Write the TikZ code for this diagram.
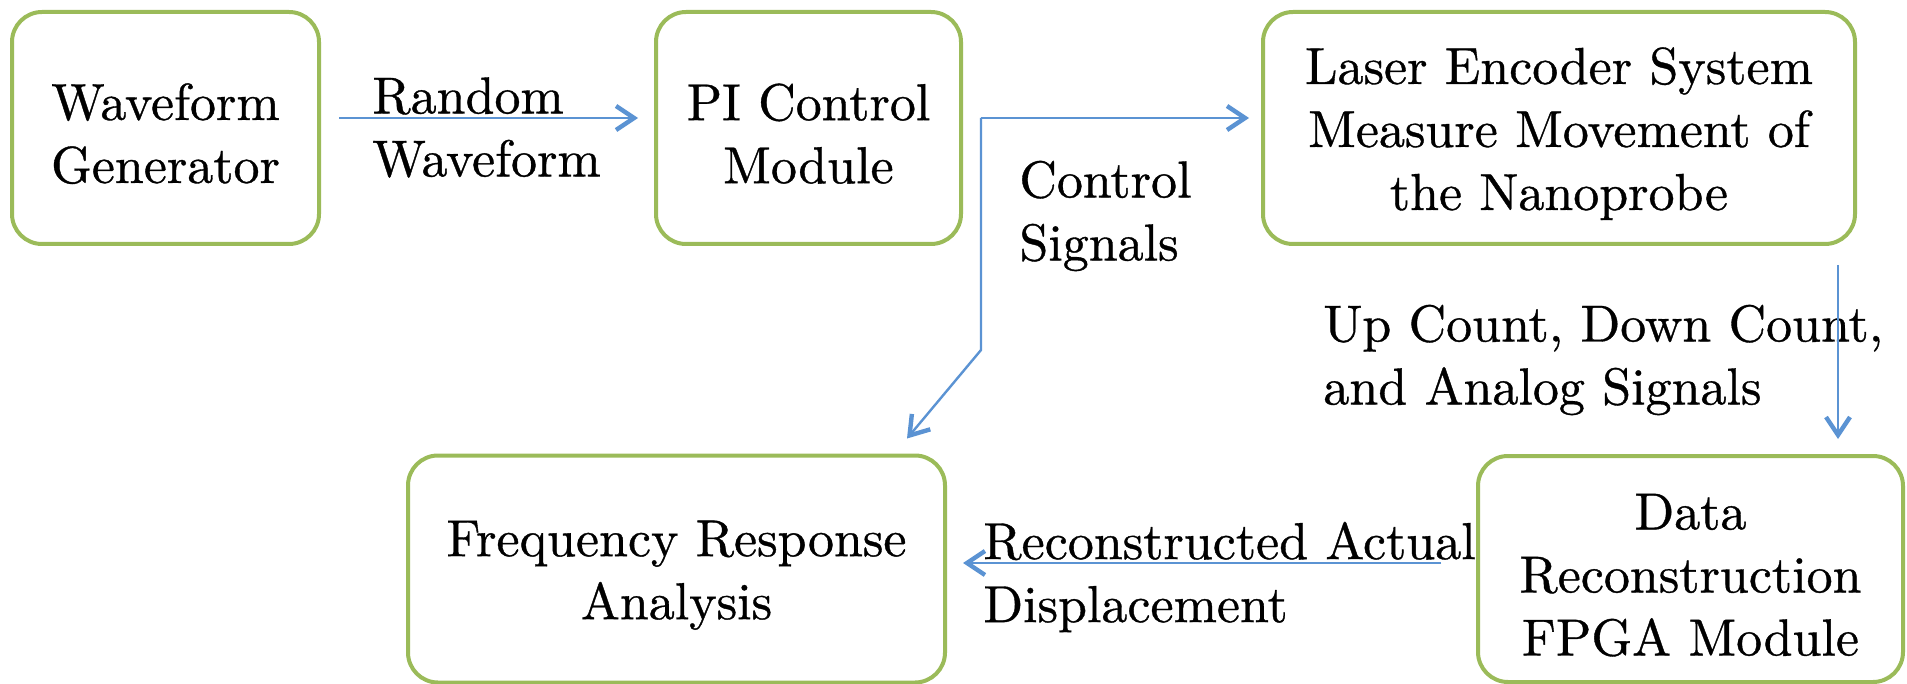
\documentclass[tikz,border=0pt]{standalone}
\usepackage{fontspec}
\setmainfont{lmroman10-regular.otf}[FakeBold=0.7]
\usetikzlibrary{arrows.meta,calc}
\definecolor{boxgreen}{HTML}{9BBB59}
\definecolor{arrblue}{HTML}{5B93D3}
\newcommand\mainsz{\fontsize{26pt}{31.5pt}\selectfont}
\newcommand\tstrut{\rule{0pt}{24pt}}
\tikzset{
  box/.style={draw=boxgreen, line width=2pt, rounded corners=15pt, align=center, font=\mainsz, inner sep=0pt},
  lbl/.style={align=left, font=\mainsz, inner sep=0pt, anchor=west},
  arr/.style={draw=arrblue, line width=1.2pt, -{Straight Barb[length=9pt,width=12pt,line width=2.2pt]}}
}
\begin{document}
\begin{tikzpicture}[x=0.5pt,y=-0.5pt]
\useasboundingbox (0,0) rectangle (1907,684);
% boxes
\node[box, minimum width=153.5pt, minimum height=116pt] (b1) at (165.5,128) {\tstrut Waveform\\Generator};
\node[box, minimum width=152.5pt, minimum height=116pt] (b2) at (808.5,128) {\tstrut PI Control\\Module};
\node[box, minimum width=296pt, minimum height=116pt] (b3) at (1559,128) {\tstrut Laser Encoder System\\Measure Movement of\\the Nanoprobe};
\node[box, minimum width=268.5pt, minimum height=113.5pt] (b4) at (676.5,569) {\tstrut Frequency Response\\Analysis};
\node[box, minimum width=212.5pt, minimum height=113pt] (b5) at (1690.5,569) {\tstrut Data\\Reconstruction\\FPGA Module};
% labels
\node[lbl] (l1) at (372,127.5) {Random\\Waveform};
\node[lbl] (l2) at (1019,216) {Control\\Signals};
\node[lbl] (l3) at (1323,360) {Up Count, Down Count,\\and Analog Signals};
\node[lbl] (l4) at (983,577) {Reconstructed Actual\\Displacement};
% connectors
\draw[arr] ($(b1.east)+(18,-10)$) -- ($(b2.west)+(-16,-10)$);
\coordinate (j) at ($(b2.east)+(18,-10)$);
\draw[arr] (j) -- ($(b3.west)+(-12,-10)$);
\coordinate (bend) at ($(j)+(0,232)$);
\draw[arr] (j) -- (bend) -- ($(b4.north east)+(-40,-15)$);
\coordinate (d1) at ($(b3.south east)+(-19,19)$);
\draw[arr] (d1) -- ($(d1 |- b5.north)+(0,-15)$);
\draw[arr] ($(b5.west)+(-35,-6)$) -- ($(b4.east)+(16,-6)$);
\end{tikzpicture}
\end{document}
